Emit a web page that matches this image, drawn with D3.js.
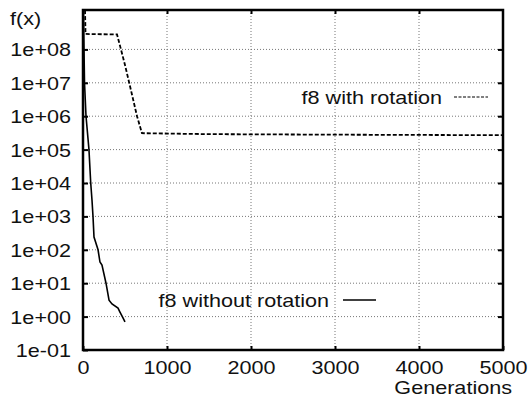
<!DOCTYPE html>
<html lang="en">
<head>
<meta charset="utf-8">
<script src="https://d3js.org/d3.v7.min.js"></script>
<title>f8 convergence</title>
<style>
  body { margin: 0; background: #fff; }
  text { font-family: "Liberation Sans", Arial, sans-serif; font-size: 18px; fill: #111; }
  .grid line { stroke: #777; stroke-width: 1; stroke-dasharray: 1,2; }
  .frame { fill: none; stroke: #000; stroke-width: 2.5; }
</style>
</head>
<body>
<script>
var width = 529, height = 402;
var margin = {top: 10, right: 26, bottom: 52, left: 83};
var w = width - margin.left - margin.right,
    h = height - margin.top - margin.bottom;

// data
var seriesNames = ["f8 with rotation", "f8 without rotation"];
var rotGen = [24, 30, 405, 452, 500, 571, 643, 702, 1512, 3000, 5000];
var rotVal = [1.5e9, 2.9e8, 2.8e8, 1e8, 3.4e7, 6e6, 1e6, 3.1e5, 2.9e5, 2.8e5, 2.7e5];
var noRotGen = [5, 12, 18, 36, 71, 92, 107, 119, 131, 179, 202, 226, 274, 310, 345, 417, 440, 476, 500];
var noRotVal = [1.4e9, 1e8, 1e7, 1e6, 1e5, 1e4, 3.1e3, 1e3, 240, 100, 43, 35, 10, 3.1, 2.4, 1.8, 1.37, 0.91, 0.69];
var xTicks = [0, 1000, 2000, 3000, 4000, 5000];
var yTicks = [1e-1, 1, 1e1, 1e2, 1e3, 1e4, 1e5, 1e6, 1e7, 1e8];

var sx = 1.2; // horizontal stretch of the lettering

var x = d3.scaleLinear().domain([0, 5000]).range([0, w]);
var y = d3.scaleLog().domain([0.1, Math.pow(10, 9.18)]).range([h, 0]);

function fmt(v) {
  var e = Math.round(Math.log10(v));
  var s = e < 0 ? "-" : "+";
  var a = Math.abs(e);
  return "1e" + s + (a < 10 ? "0" + a : a);
}

var svg = d3.select("body").append("svg")
  .attr("width", width).attr("height", height);
var g = svg.append("g").attr("transform", "translate(" + margin.left + "," + margin.top + ")");

// grid
g.append("g").attr("class", "grid")
  .selectAll("line").data(yTicks.slice(1)).enter().append("line")
  .attr("x1", 0).attr("x2", w)
  .attr("y1", function(d) { return y(d); }).attr("y2", function(d) { return y(d); });
g.append("g").attr("class", "grid")
  .selectAll("line").data(xTicks.slice(1, -1)).enter().append("line")
  .attr("y1", 0).attr("y2", h)
  .attr("x1", function(d) { return x(d); }).attr("x2", function(d) { return x(d); });

// axes
var yAxis = g.append("g")
  .call(d3.axisLeft(y).tickValues(yTicks).tickFormat(fmt).tickSizeInner(-5).tickSizeOuter(0).tickPadding(12));
var xAxis = g.append("g").attr("transform", "translate(0," + h + ")")
  .call(d3.axisBottom(x).tickValues(xTicks).tickFormat(d3.format("d")).tickSizeInner(-4).tickSizeOuter(0));
g.append("g").attr("transform", "translate(" + w + ",0)")
  .call(d3.axisRight(y).tickValues(yTicks.slice(1)).tickFormat("").tickSizeInner(-5).tickSizeOuter(0));
g.append("g")
  .call(d3.axisTop(x).tickValues(xTicks.slice(1, -1)).tickFormat("").tickSizeInner(-4).tickSizeOuter(0));

g.selectAll(".domain").remove();
g.selectAll(".tick line").attr("stroke", "#000").attr("stroke-width", 2);
g.selectAll(".tick text").attr("font-size", 18).attr("fill", "#111")
  .attr("font-family", "Liberation Sans, Arial, sans-serif");
yAxis.selectAll(".tick text").attr("x", -12 / sx).attr("dy", "0.36em")
  .attr("transform", "scale(" + sx + ",1)");
xAxis.selectAll(".tick text").attr("y", 11.5).attr("dy", "0.71em")
  .attr("transform", "scale(" + sx + ",1)");

g.append("rect").attr("class", "frame").attr("width", w).attr("height", h);

// curves
var line = d3.line()
  .x(function(d) { return x(d[0]); })
  .y(function(d) { return y(d[1]); });

var clip = svg.append("clipPath").attr("id", "clip")
  .append("rect").attr("width", w).attr("height", h);

g.append("path")
  .datum(d3.zip(rotGen, rotVal))
  .attr("clip-path", "url(#clip)")
  .attr("fill", "none").attr("stroke", "#000").attr("stroke-width", 1.8)
  .attr("stroke-dasharray", "4,2")
  .attr("d", line);

g.append("path")
  .datum(d3.zip(noRotGen, noRotVal))
  .attr("clip-path", "url(#clip)")
  .attr("fill", "none").attr("stroke", "#000").attr("stroke-width", 1.6)
  .attr("d", line);

// keys
function stretchedText(px, py, str, anchor) {
  return svg.append("text")
    .attr("transform", "translate(" + px + "," + py + ") scale(" + sx + ",1)")
    .attr("text-anchor", anchor)
    .text(str);
}
stretchedText(442, 104, seriesNames[0], "end");
svg.append("line").attr("x1", 454).attr("x2", 488).attr("y1", 97).attr("y2", 97)
  .attr("stroke", "#000").attr("stroke-width", 1.2).attr("stroke-dasharray", "3,1.5");
stretchedText(329, 307, seriesNames[1], "end");
svg.append("line").attr("x1", 343).attr("x2", 376).attr("y1", 300).attr("y2", 300)
  .attr("stroke", "#000").attr("stroke-width", 1.6);

// axis titles
stretchedText(10, 25, "f(x)", "start");
stretchedText(512, 394, "Generations", "end");
</script>
</body>
</html>
